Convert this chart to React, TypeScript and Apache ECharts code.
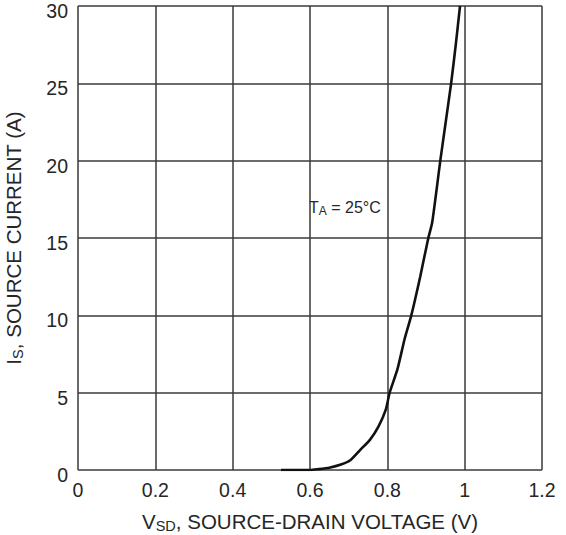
import React, { useEffect, useRef } from "react";
import * as echarts from "echarts";

const vsd = [0.525, 0.6, 0.62, 0.65, 0.68, 0.705, 0.73, 0.755, 0.777, 0.796, 0.806, 0.826, 0.845, 0.862, 0.885, 0.906, 0.916, 0.937, 0.951, 0.965, 0.977, 0.988];
const is = [0, 0, 0.05, 0.15, 0.35, 0.65, 1.3, 1.95, 2.8, 3.9, 5, 6.5, 8.5, 10, 12.5, 15, 16, 20, 22.5, 25, 27.5, 30];
const xTicks = [0, 0.2, 0.4, 0.6, 0.8, 1, 1.2];
const yTicks = [0, 5, 10, 15, 20, 25, 30];

const FONT = "'Liberation Sans', Arial, sans-serif";
const TXT = "#262626";
const GRID = "#3a3a3a";

export default function App() {
  const ref = useRef<HTMLDivElement>(null);
  useEffect(() => {
    if (!ref.current) return;
    const chart = echarts.init(ref.current, undefined, { renderer: "svg" });
    const data = vsd.map((v, i) => [v, is[i]]);
    chart.setOption({
      animation: false,
      backgroundColor: "#ffffff",
      grid: { left: 78, top: 6, right: 24, bottom: 65, show: false, containLabel: false, outerBoundsMode: "none" },
      xAxis: {
        type: "value",
        min: xTicks[0],
        max: xTicks[xTicks.length - 1],
        interval: 0.2,
        axisLine: { show: false },
        axisTick: { show: false },
        splitLine: { show: true, lineStyle: { color: GRID, width: 1.5 } },
        axisLabel: { fontFamily: FONT, fontSize: 19.5, color: TXT, margin: 10, formatter: (v: number) => String(+v.toFixed(1)) },
        name: "{a|V}{s|SD}{a|, SOURCE-DRAIN VOLTAGE (V)}",
        nameLocation: "middle",
        nameGap: 39,
        nameTextStyle: {
          rich: {
            a: { fontFamily: FONT, fontSize: 20.5, color: TXT },
            s: { fontFamily: FONT, fontSize: 14.5, color: TXT, verticalAlign: "bottom", padding: [9, 0, 0, 0] },
          },
        },
      },
      yAxis: {
        type: "value",
        min: yTicks[0],
        max: yTicks[yTicks.length - 1],
        interval: 5,
        axisLine: { show: false },
        axisTick: { show: false },
        splitLine: { show: true, lineStyle: { color: GRID, width: 1.5 } },
        axisLabel: { fontFamily: FONT, fontSize: 19.5, color: TXT, margin: 10, verticalAlign: "top", lineHeight: 10 },
        name: "{a|I}{s|S}{a|, SOURCE CURRENT (A)}",
        nameLocation: "middle",
        nameGap: 53,
        nameRotate: 90,
        nameTextStyle: {
          rich: {
            a: { fontFamily: FONT, fontSize: 20.5, color: TXT },
            s: { fontFamily: FONT, fontSize: 14.5, color: TXT, verticalAlign: "bottom", padding: [9, 0, 0, 0] },
          },
        },
      },
      series: [
        {
          type: "line",
          data,
          showSymbol: false,
          smooth: 0.2,
          lineStyle: { color: "#111111", width: 2.6 },
          z: 5,
        },
      ],
      graphic: [
        {
          type: "text",
          left: 309,
          top: 199,
          style: {
            text: "{a|T}{s|A}{a| = 25°C}",
            rich: {
              a: { fontFamily: FONT, fontSize: 16, fill: TXT, color: TXT },
              s: { fontFamily: FONT, fontSize: 12, fill: TXT, color: TXT, verticalAlign: "bottom", padding: [7, 0, 0, 0] },
            },
          },
        },
      ],
    });
    return () => chart.dispose();
  }, []);
  return <div ref={ref} style={{ width: 566, height: 535, position: "absolute", left: 0, top: 0 }} />;
}
